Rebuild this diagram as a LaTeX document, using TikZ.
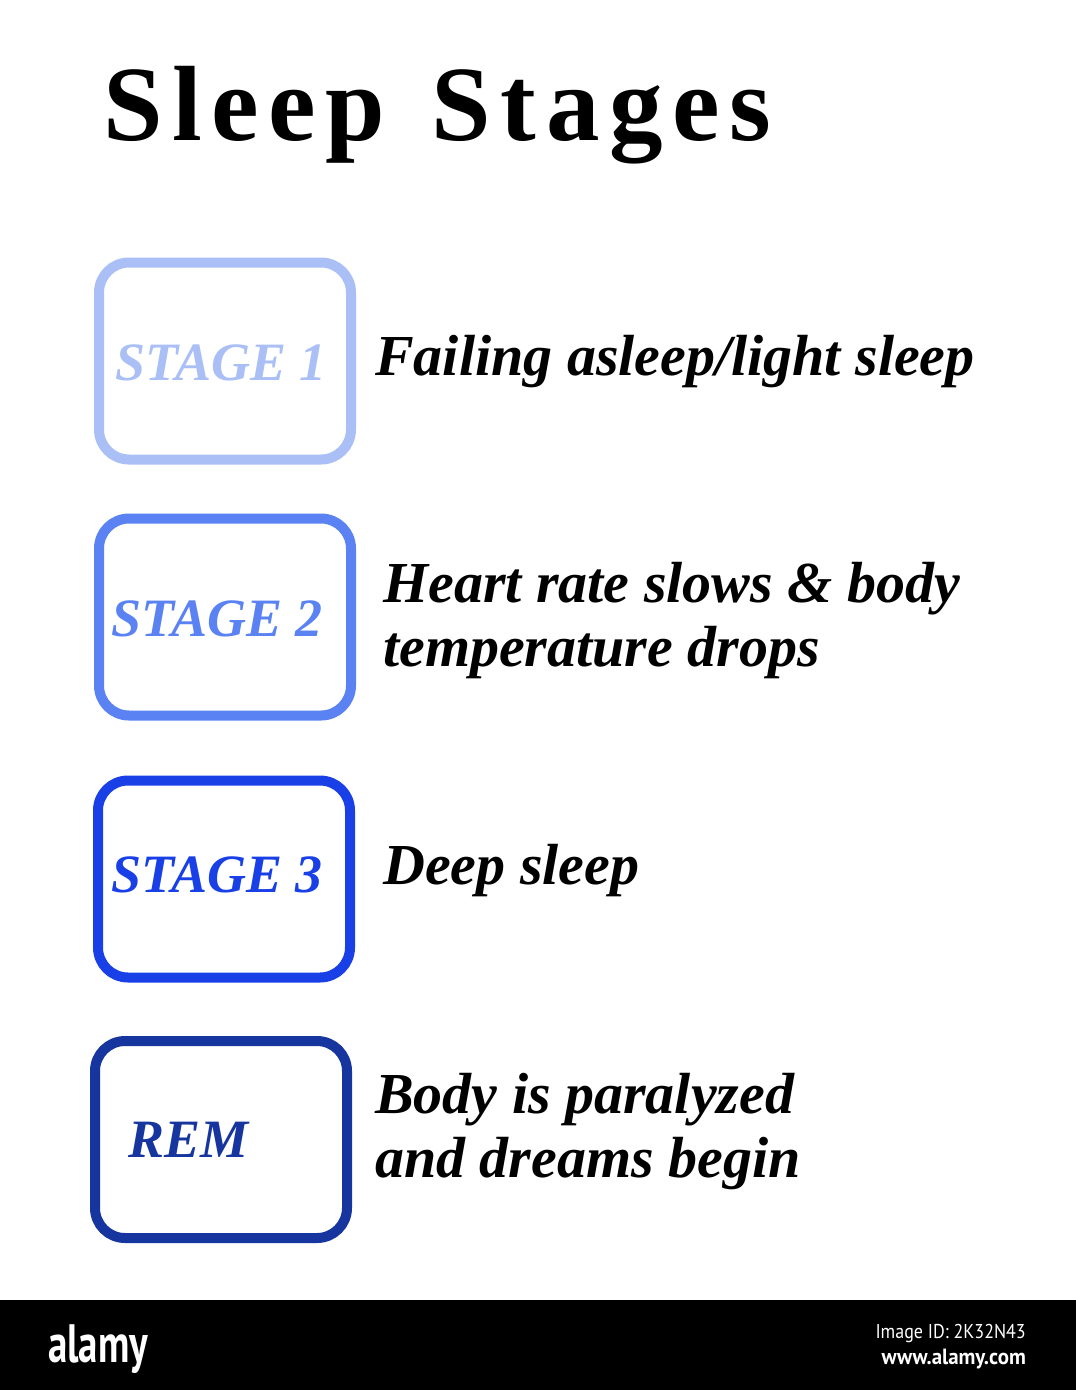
\documentclass[tikz,border=0pt]{standalone}
\usepackage{fontspec}
\setmainfont{Liberation Serif}
\newfontfamily\logofont{PT Sans}
\definecolor{cone}{HTML}{A9BFF5}
\definecolor{ctwo}{HTML}{5A82F2}
\definecolor{cthree}{HTML}{1840E6}
\definecolor{crem}{HTML}{17359E}
\begin{document}
\begin{tikzpicture}[x=1pt,y=-1pt,
  stagebox/.style={draw, line width=10pt, rounded corners=30pt, minimum width=252pt, minimum height=197pt, inner sep=0pt},
  stagelabel/.style={anchor=base west, inner sep=0pt, font=\fontsize{54}{60}\selectfont\bfseries\itshape},
  desc/.style={anchor=base west, inner sep=0pt, font=\fontsize{58}{64}\selectfont\bfseries\itshape, text=black}]
\useasboundingbox (0,0) rectangle (1076,1390);
\fill[white] (0,0) rectangle (1076,1390);
% title
\node[anchor=base west, inner sep=0pt, font=\fontsize{107}{110}\selectfont\bfseries] (title) at (103,140) {\addfontfeature{LetterSpace=9}Sleep\hspace{10pt} Stages};
% boxes
\node[stagebox, draw=cone] (b1) at (225,361) {};
\node[stagebox, draw=ctwo] (b2) at (225,617) {};
\node[stagebox, draw=cthree] (b3) at (224,879) {};
\node[stagebox, draw=crem] (b4) at (221,1139.5) {};
% labels
\node[stagelabel, text=cone] (l1) at (115,380) {STAGE 1};
\node[stagelabel, text=ctwo] (l2) at (111,636) {STAGE 2};
\node[stagelabel, text=cthree] (l3) at (111,892) {STAGE 3};
\node[stagelabel, text=crem] (l4) at (128,1157) {REM};
% descriptions
\node[desc] (d1) at (375,375) {Failing asleep/light sleep};
\node[desc] (d2a) at (383,602) {Heart rate slows \& body};
\node[desc] (d2b) at (383,666) {temperature drops};
\node[desc] (d3) at (383,884) {Deep sleep};
\node[desc] (d4a) at (375,1113) {Body is paralyzed};
\node[desc] (d4b) at (375,1177) {and dreams begin};
% bottom bar
\fill[black] (0,1300) rectangle (1076,1390);
\node[anchor=base west, inner sep=0pt, text=white, font=\logofont\fontsize{54}{54}\selectfont\bfseries] (logo) at (48,1362) {\scalebox{0.72}[1]{alamy}};
\node[anchor=base east, inner sep=0pt, text=white, font=\logofont\fontsize{20}{20}\selectfont] (imgid) at (1026,1338) {\scalebox{0.9}[1]{Image ID: 2K32N43}};
\node[anchor=base east, inner sep=0pt, text=white, font=\logofont\fontsize{22}{22}\selectfont\bfseries] (www) at (1026,1364) {\scalebox{0.95}[1]{www.alamy.com}};
\end{tikzpicture}
\end{document}
